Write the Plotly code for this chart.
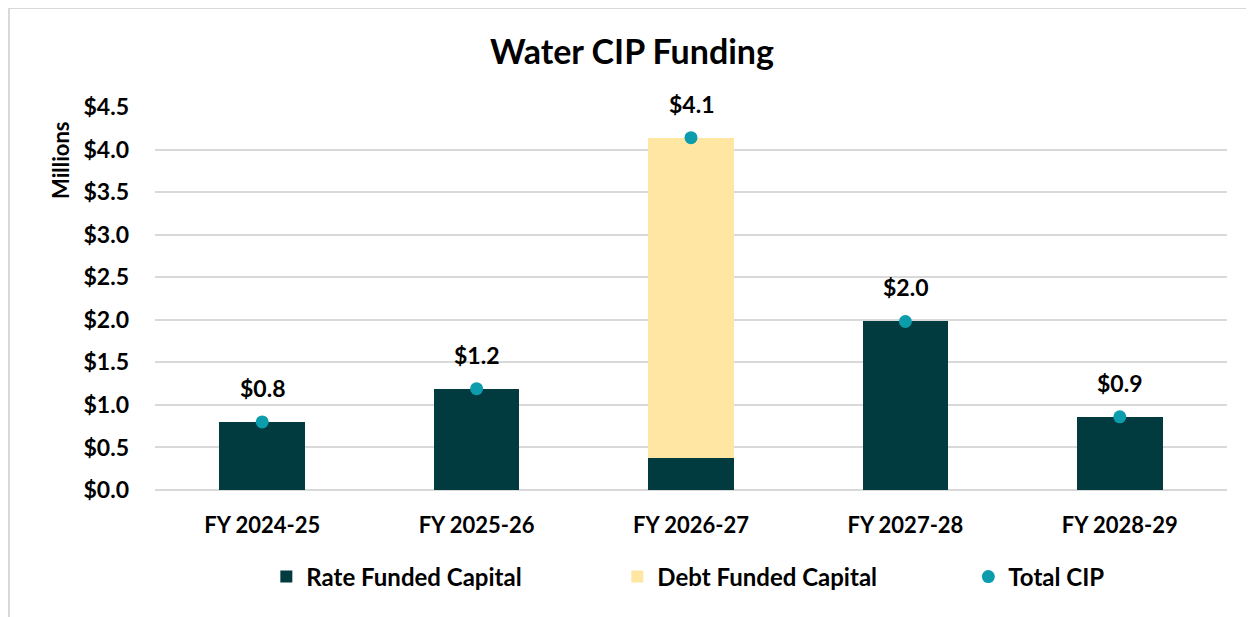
import plotly.graph_objects as go

categories = ["FY 2024-25", "FY 2025-26", "FY 2026-27", "FY 2027-28", "FY 2028-29"]
rate_funded = [0.80, 1.19, 0.38, 1.98, 0.86]
debt_funded = [0.0, 0.0, 3.76, 0.0, 0.0]
total_cip = [0.80, 1.19, 4.14, 1.98, 0.86]
tick_vals = [0, 0.5, 1.0, 1.5, 2.0, 2.5, 3.0, 3.5, 4.0, 4.5]
tick_text = ["$%.1f" % v for v in tick_vals]

FONT = "Lato"
DARK = "#023B3F"
GOLD = "#FFE6A3"
TEAL = "#0C9DAD"

W, H = 1254, 617
ML, MR, MT, MB = 147, 35, 99, 135
PW, PH = W - ML - MR, H - MT - MB

fig = go.Figure()
fig.add_trace(go.Bar(x=categories, y=rate_funded, name="Rate Funded Capital",
                     marker=dict(color=DARK, line=dict(width=0))))
fig.add_trace(go.Bar(x=categories, y=debt_funded, name="Debt Funded Capital",
                     marker=dict(color=GOLD, line=dict(width=0))))
fig.add_trace(go.Scatter(x=categories, y=total_cip, name="Total CIP", mode="markers",
                         marker=dict(color=TEAL, size=13)))

for c, v in zip(categories, total_cip):
    fig.add_annotation(x=c, y=v, text="$%.1f" % v, showarrow=False, yshift=34,
                       font=dict(family=FONT, size=23, color="black", weight="bold"))

fig.add_annotation(text="Millions", xref="paper", yref="paper",
                   x=(52 - ML) / PW, y=(MT + PH - 153) / PH,
                   xanchor="center", yanchor="middle",
                   textangle=-90, showarrow=False,
                   font=dict(family=FONT, size=22, color="black", weight="bold"))

fig.add_shape(type="rect", xref="paper", yref="paper",
              x0=(1 - ML) / PW, x1=(W + 20 - ML) / PW,
              y0=(MT + PH - (H + 20)) / PH, y1=(MT + PH - 0) / PH,
              line=dict(color="#D9D9D9", width=2), layer="below")

fig.update_layout(
    width=W, height=H,
    barmode="stack", bargap=0.6,
    paper_bgcolor="white", plot_bgcolor="white",
    margin=dict(l=ML, r=MR, t=MT, b=MB, autoexpand=False),
    title=dict(text="Water CIP Funding", x=624 / W, xanchor="center",
               y=1 - 44 / H, yanchor="middle",
               font=dict(family=FONT, size=34, color="black", weight="bold")),
    font=dict(family=FONT, size=18, color="black"),
    legend=dict(orientation="h", x=0.595, xanchor="center",
                y=(MT + PH - 569) / PH, yanchor="middle",
                font=dict(family=FONT, size=24, color="black", weight="bold"),
                itemwidth=30, entrywidth=306, traceorder="normal"),
    showlegend=True,
)
fig.update_xaxes(showgrid=False, showline=False, ticks="", ticklabelstandoff=20,
                 tickfont=dict(family=FONT, size=22, color="black", weight="bold"))
fig.update_yaxes(range=[0, 4.5], tickvals=tick_vals, ticktext=tick_text,
                 showgrid=True, gridcolor="#D9D9D9", gridwidth=2, zeroline=True,
                 zerolinecolor="#D9D9D9", zerolinewidth=2, ticks="", ticklen=0,
                 ticklabelstandoff=25,
                 tickfont=dict(family=FONT, size=23, color="black", weight="bold"))

fig.write_html("out.html")
